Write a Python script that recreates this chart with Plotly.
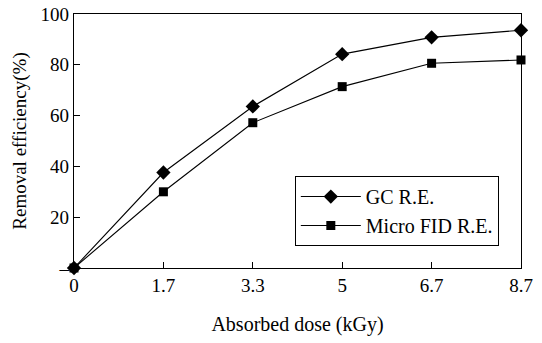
import plotly.graph_objects as go

doses = ["0", "1.7", "3.3", "5", "6.7", "8.7"]
gc_re = [0, 37.6, 63.6, 84.2, 90.8, 93.6]
fid_re = [0, 30.0, 57.2, 71.4, 80.6, 81.9]
y_ticks = [0, 20, 40, 60, 80, 100]
y_ticktext = ["\u2013", "20", "40", "60", "80", "100"]

font_family = "Liberation Serif"

fig = go.Figure()
fig.add_trace(go.Scatter(
    x=doses, y=gc_re, name="GC R.E.", mode="lines+markers",
    line=dict(color="black", width=1.1),
    marker=dict(symbol="diamond", size=11, color="black"),
    cliponaxis=False,
))
fig.add_trace(go.Scatter(
    x=doses, y=fid_re, name="Micro FID R.E.", mode="lines+markers",
    line=dict(color="black", width=1.1),
    marker=dict(symbol="square", size=9, color="black"),
    cliponaxis=False,
))

fig.update_layout(
    width=542, height=343,
    margin=dict(l=74, r=21, t=14, b=75, autoexpand=False),
    paper_bgcolor="white", plot_bgcolor="white",
    font=dict(family=font_family, size=19, color="black"),
    showlegend=True,
    legend=dict(
        x=0.494, y=0.362, xanchor="left", yanchor="top",
        bordercolor="black", borderwidth=1, bgcolor="white",
        font=dict(family=font_family, size=20), tracegroupgap=0, itemwidth=60,
    ),
    xaxis=dict(
        type="category", range=[0, 5], automargin=False,
        showline=True, linecolor="black", linewidth=1.3, mirror=True,
        ticks="inside", ticklen=6, tickcolor="black",
        showgrid=False, zeroline=False,
        tickfont=dict(family=font_family, size=19),
        title=dict(text="Absorbed dose (kGy)", standoff=22,
                   font=dict(family=font_family, size=20)),
    ),
    yaxis=dict(
        range=[0, 100], automargin=False,
        tickvals=y_ticks, ticktext=y_ticktext,
        showline=True, linecolor="black", linewidth=1.3, mirror=True,
        ticks="inside", ticklen=6, tickcolor="black",
        showgrid=False, zeroline=False,
        tickfont=dict(family=font_family, size=19),
        title=dict(text="Removal efficiency(%)", standoff=8,
                   font=dict(family=font_family, size=19)),
    ),
)

fig.write_html("out.html", config={"displayModeBar": False},
               post_script="document.body.style.margin='0';")
